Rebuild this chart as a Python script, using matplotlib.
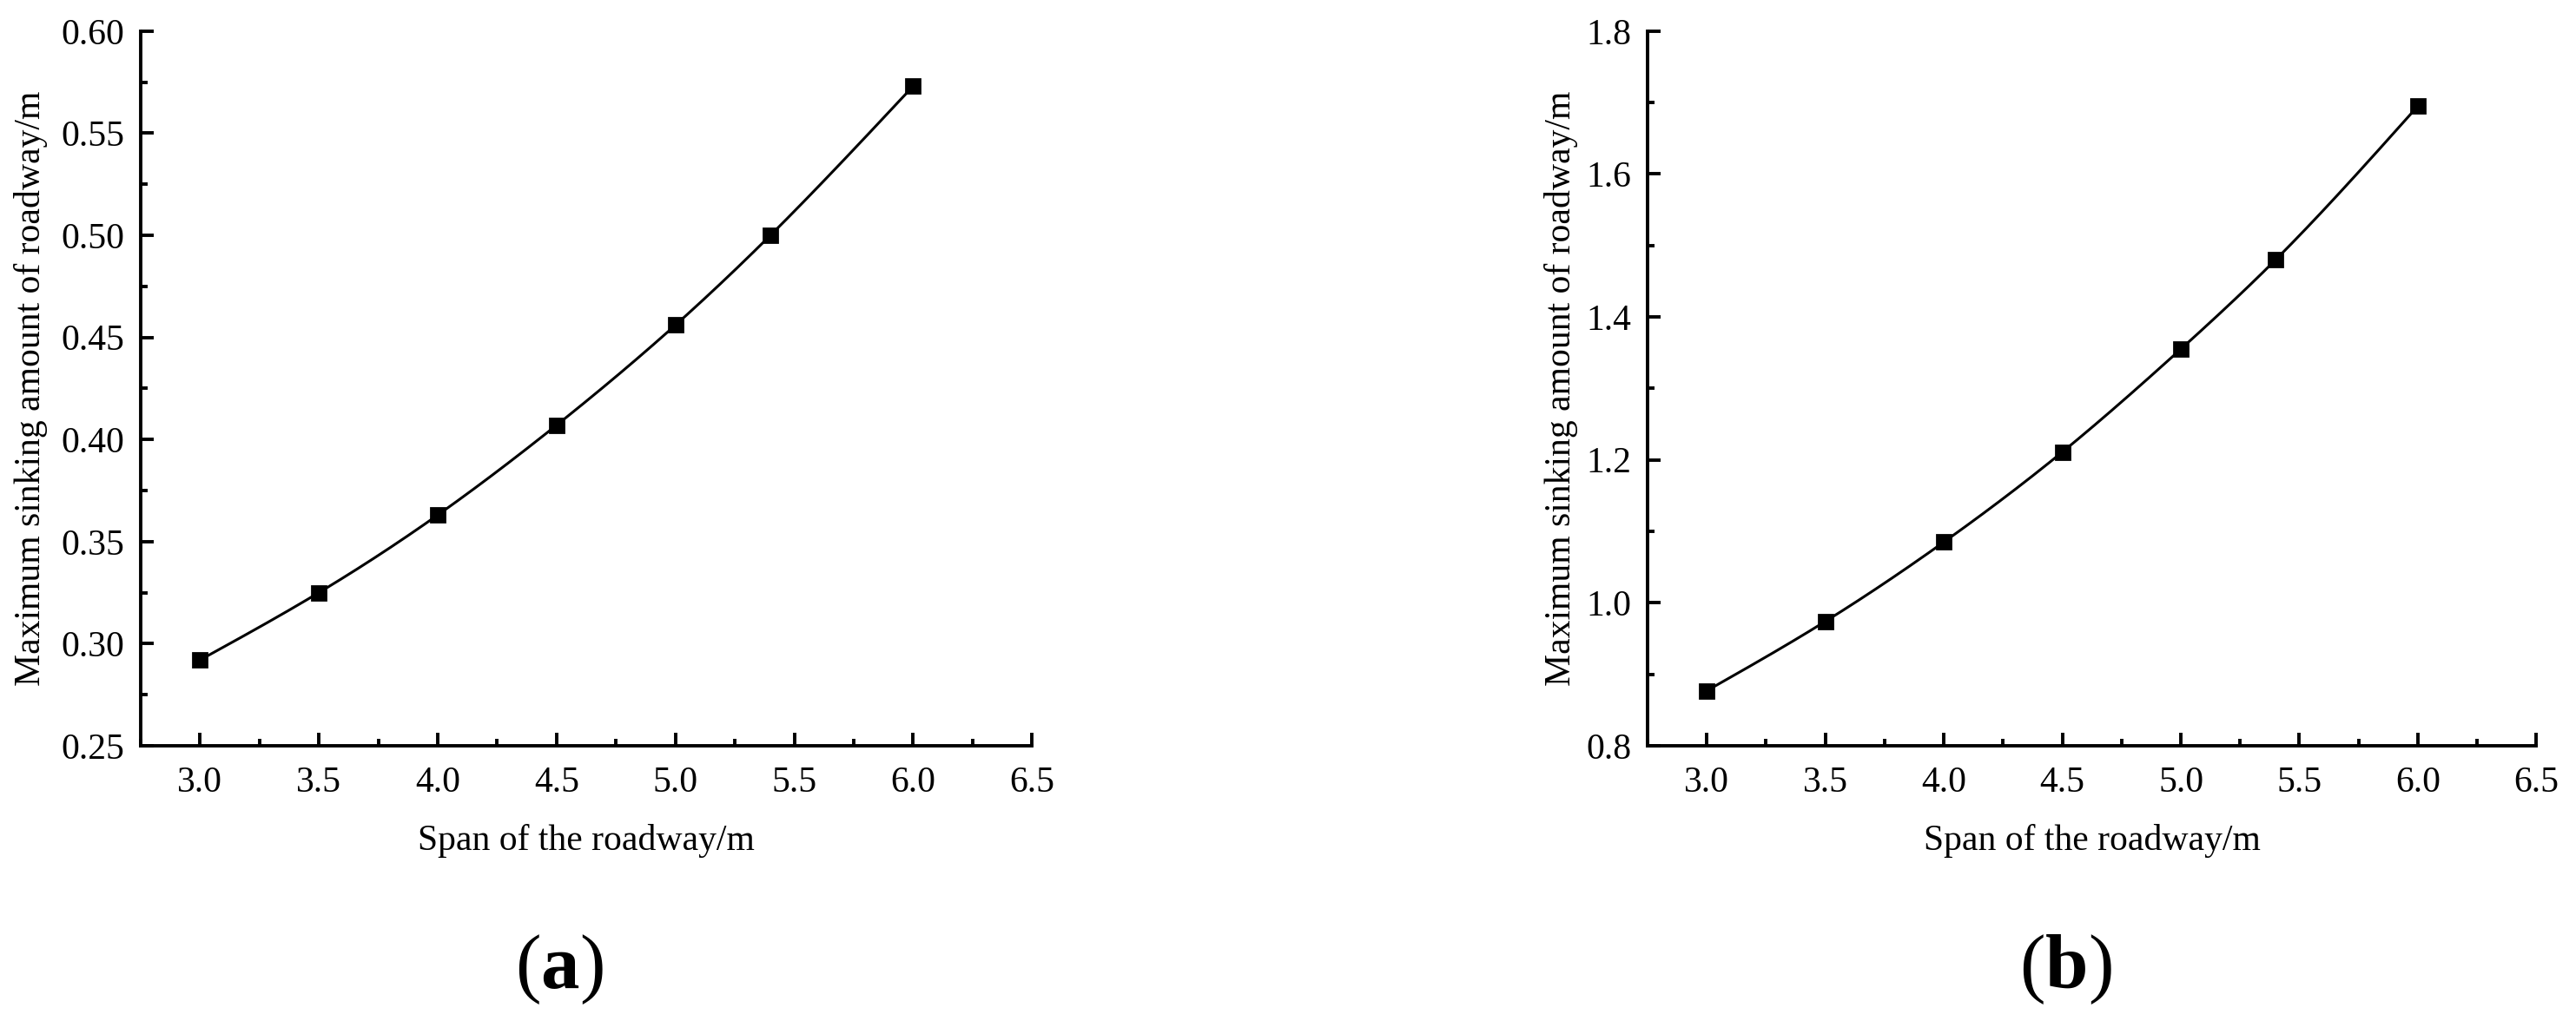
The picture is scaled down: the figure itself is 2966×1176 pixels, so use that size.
import numpy as np
import matplotlib
matplotlib.use("Agg")
import matplotlib.pyplot as plt
from matplotlib.ticker import MultipleLocator

plt.rcParams["font.family"] = ["Liberation Serif", "DejaVu Serif"]
plt.rcParams["mathtext.fontset"] = "custom"
plt.rcParams["mathtext.rm"] = "Liberation Serif"
plt.rcParams["mathtext.bf"] = "Liberation Serif:bold"

# span of the roadway (m)
span = [3.0, 3.5, 4.0, 4.5, 5.0, 5.4, 6.0]
# maximum sinking amount (m)
sink_a = [0.292, 0.325, 0.363, 0.407, 0.456, 0.500, 0.573]
sink_b = [0.877, 0.974, 1.085, 1.211, 1.355, 1.480, 1.695]

xlabel = "Span of the roadway/m"
ylabel = "Maximum sinking amount of roadway/m"


def spline(x, y, n=300):
    # natural cubic spline, only used to draw the smooth connecting line
    x = np.asarray(x, float)
    y = np.asarray(y, float)
    h = np.diff(x)
    k = len(x)
    A = np.zeros((k, k))
    r = np.zeros(k)
    A[0, 0] = A[-1, -1] = 1
    for i in range(1, k - 1):
        A[i, i - 1] = h[i - 1]
        A[i, i] = 2 * (h[i - 1] + h[i])
        A[i, i + 1] = h[i]
        r[i] = 6 * ((y[i + 1] - y[i]) / h[i] - (y[i] - y[i - 1]) / h[i - 1])
    m = np.linalg.solve(A, r)
    xs = np.linspace(x[0], x[-1], n)
    idx = np.clip(np.searchsorted(x, xs) - 1, 0, k - 2)
    x0, x1 = x[idx], x[idx + 1]
    hh = x1 - x0
    a = (x1 - xs) / hh
    b = (xs - x0) / hh
    ys = a * y[idx] + b * y[idx + 1] + ((a**3 - a) * m[idx] + (b**3 - b) * m[idx + 1]) * hh**2 / 6
    return xs, ys


fig = plt.figure(figsize=(14.83, 5.88), dpi=200)

panels = [
    (sink_a, [0.0546, 0.2696, 0.346, 0.700], (0.25, 0.60), 0.05, 0.025, "%.2f", "a", 0.217, -0.104),
    (sink_b, [0.6396, 0.2696, 0.345, 0.700], (0.8, 1.8), 0.2, 0.1, "%.1f", "b", 0.802, -0.078),
]

for vals, rect, ylim, maj, mnr, fmt, tag, tx, ylx in panels:
    ax = fig.add_axes(rect)
    xs, ys = spline(span, vals)
    ax.plot(xs, ys, color="black", linewidth=1.1)
    ax.plot(span, vals, "s", color="black", markersize=6)
    ax.set_xlim(2.75, 6.5)
    ax.set_ylim(*ylim)
    ax.xaxis.set_major_locator(MultipleLocator(0.5))
    ax.xaxis.set_minor_locator(MultipleLocator(0.25))
    ax.yaxis.set_major_locator(MultipleLocator(maj))
    ax.yaxis.set_minor_locator(MultipleLocator(mnr))
    ax.yaxis.set_major_formatter(plt.FormatStrFormatter(fmt))
    ax.xaxis.set_major_formatter(plt.FormatStrFormatter("%.1f"))
    for s in ["top", "right"]:
        ax.spines[s].set_visible(False)
    for s in ["left", "bottom"]:
        ax.spines[s].set_linewidth(1.4)
    ax.tick_params(which="major", direction="in", length=5.5, width=1.4, labelsize=15)
    ax.tick_params(axis="x", which="major", pad=8.6)
    ax.tick_params(axis="y", which="major", pad=6.8)
    ax.tick_params(which="minor", direction="in", length=2.8, width=1.4)
    ax.set_xlabel(xlabel, fontsize=15)
    ax.set_ylabel(ylabel, fontsize=15)
    ax.xaxis.set_label_coords(0.5, -0.109)
    ax.yaxis.set_label_coords(ylx, 0.5)
    fig.text(tx, 0.0323, "($\\mathbf{%s}$)" % tag, fontsize=32, ha="center", va="baseline")

fig.savefig("out.png", dpi=200)
